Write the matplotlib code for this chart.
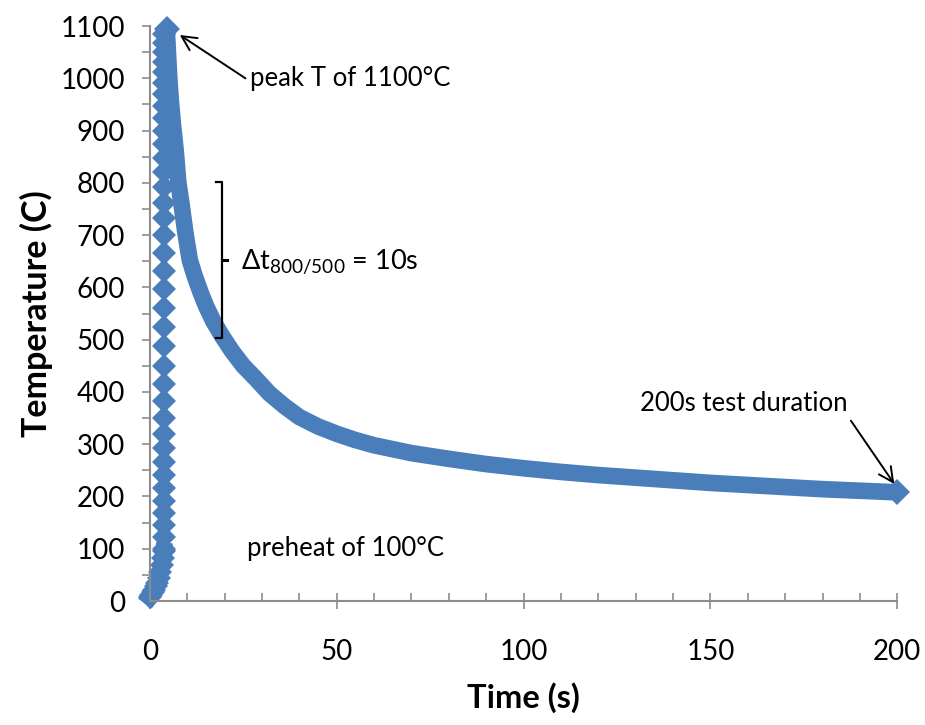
import matplotlib
matplotlib.use("Agg")
import matplotlib.pyplot as plt
from matplotlib.ticker import MultipleLocator

plt.rcParams['font.family'] = ['Lato', 'DejaVu Sans']
plt.rcParams['mathtext.fontset'] = 'custom'
plt.rcParams['mathtext.rm'] = 'Lato'
plt.rcParams['mathtext.it'] = 'Lato:italic'

# ---- data ----
# preheat ramp (s, C)
ramp_t = [0.0, 0.4, 0.8, 1.2, 1.6, 2.0, 2.4, 2.8, 3.2, 3.5, 3.7]
ramp_T = [8, 12, 17, 22, 28, 35, 44, 55, 68, 82, 96]

# rapid heating column (s, C)
heat_T = [100, 122, 145, 168, 192, 216, 241, 266, 292, 320, 350, 382, 415,
          450, 487, 524, 561, 597, 632, 666, 700, 732, 762, 792, 820, 848,
          874, 900, 924, 948, 970, 992, 1012, 1032, 1050, 1068, 1084]
heat_t = [3.9] * len(heat_T)

# cooling curve (s, C)
cool_t = [4.5, 4.8, 5.2, 5.6, 6.2, 6.9, 7.6, 8.5, 9.5, 10.7, 12, 13.5, 15, 17,
          19.5, 22, 25, 28, 32, 36, 40, 45, 50, 55, 60, 70, 80, 90, 100, 110,
          120, 130, 140, 150, 160, 170, 180, 190, 200]
cool_T = [1095, 1055, 1000, 958, 910, 863, 802, 758, 705, 652, 622, 592, 565,
          535, 505, 478, 450, 428, 397, 373, 352, 334, 320, 308, 298, 283,
          272, 262, 254, 247, 241, 236, 231, 226, 222, 218, 214, 211, 208]

x_ticks = [0, 50, 100, 150, 200]
y_ticks = list(range(0, 1101, 100))

blue = '#4a7ebb'
grey = '#8c8c8c'

fig = plt.figure(figsize=(9.25, 7.25), dpi=100)
ax = fig.add_axes([0.162, 0.171, 0.808, 0.793])

ms = 12
ax.plot(ramp_t, ramp_T, linestyle='-', lw=12, marker='D', ms=ms, color=blue,
        mec=blue, mew=0, solid_joinstyle='round', clip_on=False)
ax.plot(heat_t, heat_T, linestyle='none', marker='D', ms=ms, color=blue,
        mec=blue, mew=0, clip_on=False)
ax.plot(cool_t, cool_T, linestyle='-', lw=12, marker='D', ms=ms + 1,
        markevery=[0, len(cool_t) - 1], color=blue, mec=blue, mew=0,
        solid_joinstyle='round', solid_capstyle='butt', clip_on=False)

ax.set_xlim(0, 200)
ax.set_ylim(0, 1100)
ax.set_xticks(x_ticks)
ax.set_yticks(y_ticks)
ax.xaxis.set_minor_locator(MultipleLocator(10))
ax.yaxis.set_minor_locator(MultipleLocator(50))

for s in ['top', 'right']:
    ax.spines[s].set_visible(False)
for s in ['left', 'bottom']:
    ax.spines[s].set_color(grey)
    ax.spines[s].set_linewidth(1.5)

ax.tick_params(axis='x', which='major', direction='inout', length=12,
               width=1.2, color=grey, labelsize=20, pad=21)
ax.tick_params(axis='x', which='minor', direction='in', length=6,
               width=1.2, color=grey)
ax.tick_params(axis='y', which='both', direction='out', length=6,
               width=1.2, color=grey, labelsize=20, pad=12)

ax.set_xlabel('Time (s)', fontsize=23.5, fontweight='bold', labelpad=13)
ax.set_ylabel('Temperature (C)', fontsize=24.5, fontweight='bold', labelpad=5)

fs = 18.5
# peak annotation
ax.text(26.8, 1000, 'peak T of 1100°C', fontsize=fs, va='center', ha='left')
ax.annotate('', xy=(8.0, 1083), xytext=(25.6, 1000),
            arrowprops=dict(arrowstyle='->', color='black', lw=1.4,
                            mutation_scale=26, shrinkA=0, shrinkB=0))
# end annotation
ax.text(186.8, 377, '200s test duration', fontsize=fs, va='center', ha='right')
ax.annotate('', xy=(199.2, 224), xytext=(187.6, 345),
            arrowprops=dict(arrowstyle='->', color='black', lw=1.4,
                            mutation_scale=26, shrinkA=0, shrinkB=0))
ax.text(26.0, 101, 'preheat of 100°C', fontsize=fs, va='center', ha='left')

# bracket for dt 800/500
ax.plot([17.7, 19.2, 19.2, 17.7], [802, 802, 503, 503], color='black', lw=1.6)
ax.plot([19.2, 20.6], [652, 652], color='black', lw=2.2)
ax.text(24.5, 650, r'Δt$_{\mathrm{800/500}}$ = 10s', fontsize=19.5,
        va='center', ha='left')

fig.savefig('out.png', dpi=100)
